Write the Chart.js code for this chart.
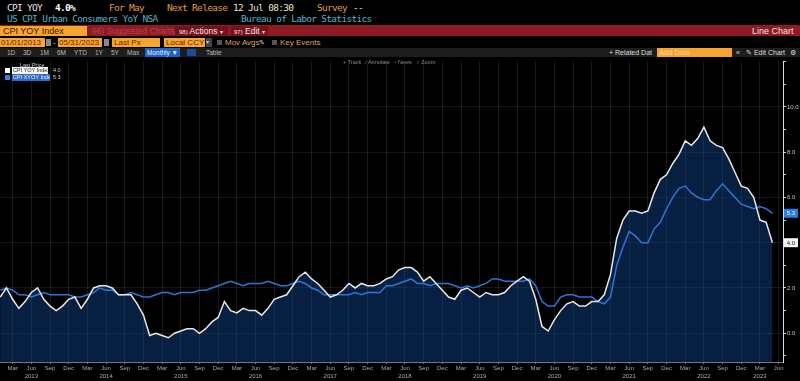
<!DOCTYPE html>
<html><head><meta charset="utf-8">
<script src="https://cdn.jsdelivr.net/npm/chart.js@4"></script>
<style>
html,body{margin:0;padding:0;background:#000;width:800px;height:381px;overflow:hidden;}
.a{position:absolute;white-space:nowrap;}
.mono{font-family:"DejaVu Sans Mono","Liberation Mono",monospace;font-size:9.5px;line-height:10px;letter-spacing:-0.7px;}
.s{font-family:"Liberation Sans",Arial,sans-serif;}
.box{position:absolute;box-sizing:border-box;white-space:nowrap;overflow:hidden;}
#wrap{position:absolute;left:0;top:57px;width:800px;height:324px;}
.ov{z-index:5;}
</style></head><body>

<!-- row 1 -->
<div class="a mono" style="left:7px;top:3px;color:#e6e6e6">CPI YOY</div>
<div class="a mono" style="left:55px;top:3px;color:#fff;font-weight:bold">4.0%</div>
<div class="a mono" style="left:109px;top:3px;color:#e09a45">For May</div>
<div class="a mono" style="left:167px;top:3px;color:#e09a45">Next Release</div>
<div class="a mono" style="left:233px;top:3px;color:#ece2cf">12 Jul 08:30</div>
<div class="a mono" style="left:317px;top:3px;color:#e09a45">Survey</div>
<div class="a mono" style="left:353px;top:3px;color:#e6e6e6">--</div>
<!-- row 2 -->
<div class="a mono" style="left:7px;top:14px;color:#4fb6c9">US CPI Urban Consumers YoY NSA</div>
<div class="a mono" style="left:241px;top:14px;color:#4fb6c9">Bureau of Labor Statistics</div>

<!-- row 3 red bar -->
<div class="box" style="left:0;top:25px;width:800px;height:11px;background:#8e1a24"></div>
<div class="box s" style="left:0;top:26px;width:87px;height:10px;background:#f6a531;color:#3b1600;font-size:9px;line-height:10px;padding-left:3px">CPI YOY Index</div>
<div class="a s" style="left:92px;top:26px;color:#b8424c;font-size:8.5px;line-height:10px">96) Suggested Charts</div>
<div class="box s" style="left:175px;top:26px;width:53px;height:10px;background:#75121c;color:#f2e6e6;font-size:8.5px;line-height:10px;padding-left:4px"><span style="font-size:6px">98)</span> Actions <span style="font-size:6px">▾</span></div>
<div class="box s" style="left:231px;top:26px;width:37px;height:10px;background:#75121c;color:#f2e6e6;font-size:8.5px;line-height:10px;padding-left:3px"><span style="font-size:6px">97)</span> Edit <span style="font-size:6px">▾</span></div>
<div class="a s" style="left:752px;top:26px;color:#f2e6e6;font-size:9px;line-height:10px">Line Chart</div>

<!-- row 4 -->
<div class="box s" style="left:0;top:38px;width:45px;height:9px;background:#f6a531;color:#6a2600;font-size:8px;line-height:9px;padding-left:1px">01/01/2013</div>
<div class="box" style="left:46px;top:39px;width:5px;height:7px;background:#8a8a8a"></div>
<div class="a s" style="left:53px;top:38px;color:#ddd;font-size:8px;line-height:9px">-</div>
<div class="box s" style="left:58px;top:38px;width:44px;height:9px;background:#f6a531;color:#6a2600;font-size:8px;line-height:9px;padding-left:1px">05/31/2023</div>
<div class="box" style="left:104px;top:39px;width:5px;height:7px;background:#8a8a8a"></div>
<div class="box s" style="left:112px;top:38px;width:48px;height:9px;background:#f6a531;color:#6a2600;font-size:8px;line-height:9px;padding-left:2px">Last Px</div>
<div class="box s" style="left:164px;top:38px;width:41px;height:9px;background:#f6a531;color:#6a2600;font-size:8px;line-height:9px;padding-left:2px">Local CCY</div>
<div class="box s" style="left:206px;top:38px;width:6px;height:9px;background:#444;color:#ccc;font-size:6px;line-height:9px">▾</div>
<div class="box" style="left:217px;top:40px;width:5px;height:5px;background:#555"></div>
<div class="a s" style="left:225px;top:38px;color:#d9a35a;font-size:8px;line-height:9px">Mov Avgs</div>
<div class="a s" style="left:259px;top:38px;color:#ddd;font-size:7px;line-height:9px">✎</div>
<div class="box" style="left:272px;top:40px;width:5px;height:5px;background:#555"></div>
<div class="a s" style="left:280px;top:38px;color:#d9a35a;font-size:8px;line-height:9px">Key Events</div>

<!-- row 5 gray bar -->
<div class="box" style="left:0;top:48px;width:800px;height:9px;background:#1d1d1d"></div>
<div class="a s" style="left:7px;top:49px;color:#bbb;font-size:6.5px;line-height:8px">1D</div>
<div class="a s" style="left:23px;top:49px;color:#bbb;font-size:6.5px;line-height:8px">3D</div>
<div class="a s" style="left:40px;top:49px;color:#bbb;font-size:6.5px;line-height:8px">1M</div>
<div class="a s" style="left:57px;top:49px;color:#bbb;font-size:6.5px;line-height:8px">6M</div>
<div class="a s" style="left:74px;top:49px;color:#bbb;font-size:6.5px;line-height:8px">YTD</div>
<div class="a s" style="left:95px;top:49px;color:#bbb;font-size:6.5px;line-height:8px">1Y</div>
<div class="a s" style="left:111px;top:49px;color:#bbb;font-size:6.5px;line-height:8px">5Y</div>
<div class="a s" style="left:127px;top:49px;color:#bbb;font-size:6.5px;line-height:8px">Max</div>
<div class="box s" style="left:145px;top:48px;width:35px;height:9px;background:#1c64c8;color:#eef;font-size:6.5px;line-height:9px;padding-left:2px">Monthly ▼</div>
<div class="box" style="left:187px;top:49px;width:9px;height:7px;background:#1a4c9c"></div>
<div class="a s" style="left:206px;top:49px;color:#bbb;font-size:6.5px;line-height:8px">Table</div>
<div class="a s" style="left:609px;top:48px;color:#ddd;font-size:7px;line-height:9px">+ Related Dat</div>
<div class="box s" style="left:657px;top:48px;width:75px;height:9px;background:#f6a531;color:#f9d9a0;font-size:7.5px;line-height:9px;padding-left:2px">Add Data</div>
<div class="a s" style="left:736px;top:48px;color:#ddd;font-size:7px;line-height:9px">«</div>
<div class="a s" style="left:746px;top:48px;color:#ddd;font-size:7px;line-height:9px">✎ Edit Chart</div>
<div class="a s" style="left:790px;top:48px;color:#ddd;font-size:7px;line-height:9px">⚙</div>

<div id="wrap"><canvas id="c"></canvas></div>

<!-- overlays -->
<div class="a s ov" style="left:343px;top:59px;color:#8a8a8a;font-size:5.5px;line-height:7px">+ Track &nbsp; ⁄ Annotate &nbsp; ▫ News &nbsp; ○ Zoom</div>
<div class="a s ov" style="left:20px;top:62px;color:#cfcfcf;font-size:5.5px;line-height:6px">Last Price</div>
<div class="box ov" style="left:5px;top:68px;width:5px;height:5px;background:#fff"></div>
<div class="box s ov" style="left:12px;top:67px;width:36px;height:7px;background:#f4f4f4;color:#222;font-size:5.5px;line-height:7px;padding-left:1px">CPI YOY Index</div>
<div class="a s ov" style="left:53px;top:67px;color:#cfcfcf;font-size:5.5px;line-height:7px">4.0</div>
<div class="box ov" style="left:5px;top:75px;width:5px;height:5px;background:#3b7fe0"></div>
<div class="box s ov" style="left:12px;top:74px;width:38px;height:7px;background:#2f6ccc;color:#e8eefa;font-size:5.5px;line-height:7px;padding-left:1px">CPI XYOY Index</div>
<div class="a s ov" style="left:53px;top:74px;color:#cfcfcf;font-size:5.5px;line-height:7px">5.3</div>

<script>
// ---- data (monthly, Jan 2013 .. May 2023) ----
const startYear = 2013;
const quarterMonths = ['Mar', 'Jun', 'Sep', 'Dec'];
const years = ['2013','2014','2015','2016','2017','2018','2019','2020','2021','2022','2023'];
const yTickLabels = ['0.0', '2.0', '4.0', '6.0', '8.0', '10.0'];

const cpiYoy = [
  1.6,2.0,1.5,1.1,1.4,1.8,2.0,1.5,1.2,1.0,1.2,1.5,
  1.6,1.1,1.5,2.0,2.1,2.1,2.0,1.7,1.7,1.7,1.3,0.8,
  -0.1,0.0,-0.1,-0.2,0.0,0.1,0.2,0.2,0.0,0.2,0.5,0.7,
  1.4,1.0,0.9,1.1,1.0,1.0,0.8,1.1,1.5,1.6,1.7,2.1,
  2.5,2.7,2.4,2.2,1.9,1.6,1.7,1.9,2.2,2.0,2.2,2.1,
  2.1,2.2,2.4,2.5,2.8,2.9,2.9,2.7,2.3,2.5,2.2,1.9,
  1.6,1.5,1.9,2.0,1.8,1.6,1.8,1.7,1.7,1.8,2.1,2.3,
  2.5,2.3,1.5,0.3,0.1,0.6,1.0,1.3,1.4,1.2,1.2,1.4,
  1.4,1.7,2.6,4.2,5.0,5.4,5.4,5.3,5.4,6.2,6.8,7.0,
  7.5,7.9,8.5,8.3,8.6,9.1,8.5,8.3,8.2,7.7,7.1,6.5,
  6.4,6.0,5.0,4.9,4.0
];
const coreYoy = [
  1.9,2.0,1.9,1.7,1.7,1.6,1.7,1.8,1.7,1.7,1.7,1.7,
  1.6,1.6,1.7,1.8,2.0,1.9,1.9,1.7,1.7,1.8,1.7,1.6,
  1.6,1.7,1.8,1.8,1.7,1.8,1.8,1.8,1.9,1.9,2.0,2.1,
  2.2,2.3,2.2,2.1,2.2,2.2,2.2,2.3,2.2,2.1,2.1,2.2,
  2.3,2.2,2.0,1.9,1.7,1.7,1.7,1.7,1.7,1.8,1.7,1.8,
  1.8,1.8,2.1,2.1,2.2,2.3,2.4,2.2,2.2,2.1,2.2,2.2,
  2.2,2.1,2.0,2.1,2.0,2.1,2.2,2.4,2.4,2.3,2.3,2.3,
  2.3,2.4,2.1,1.4,1.2,1.2,1.6,1.7,1.7,1.6,1.6,1.6,
  1.4,1.3,1.6,3.0,3.8,4.5,4.3,4.0,4.0,4.6,4.9,5.5,
  6.0,6.4,6.5,6.2,6.0,5.9,5.9,6.3,6.6,6.3,6.0,5.7,
  5.6,5.5,5.6,5.5,5.3
];

const toPts = arr => arr.map((v, i) => ({x: i, y: v}));
const WHITE = '#e8e8e8', BLUE = '#2f74d6';

const badgePlugin = {
  id: 'badges',
  afterDraw(chart) {
    const ctx = chart.ctx, ys = chart.scales.y;
    const defs = [
      {data: coreYoy, bg: '#2f7be6', fg: '#ffffff'},
      {data: cpiYoy, bg: '#f4f4f4', fg: '#111111'}
    ];
    ctx.save();
    defs.forEach(d => {
      const v = d.data[d.data.length - 1];
      const y = ys.getPixelForValue(v);
      const x0 = chart.chartArea.right + 1;
      ctx.fillStyle = d.bg;
      ctx.fillRect(x0, y - 4.5, 14, 9);
      ctx.fillStyle = d.fg;
      ctx.font = '6px "Liberation Sans", Arial, sans-serif';
      ctx.textBaseline = 'middle';
      ctx.textAlign = 'center';
      ctx.fillText(v.toFixed(1), x0 + 7, y + 0.5);
    });
    ctx.restore();
  }
};

new Chart(document.getElementById('c'), {
  type: 'line',
  data: {
    datasets: [
      {label: 'CPI YOY Index', data: toPts(cpiYoy), borderColor: WHITE, borderWidth: 1.5,
       pointRadius: 0, tension: 0, fill: 'start', backgroundColor: 'rgba(16,70,145,0.45)'},
      {label: 'CPI XYOY Index', data: toPts(coreYoy), borderColor: BLUE, borderWidth: 1.5,
       pointRadius: 0, tension: 0, fill: false}
    ]
  },
  options: {
    responsive: true, maintainAspectRatio: false, animation: false,
    layout: {padding: 0},
    plugins: {legend: {display: false}, tooltip: {enabled: false},
              filler: {drawTime: 'beforeDatasetsDraw'}},
    scales: {
      x: {
        type: 'linear', min: -0.03, max: 125.7,
        afterBuildTicks: s => {
          const t = [];
          for (let i = 2; i <= 125; i += 3) t.push({value: i});
          s.ticks = t;
        },
        afterFit: s => { s.height = 19; },
        ticks: {
          autoSkip: false, maxRotation: 0, padding: 1, color: '#a8a8a8',
          font: {size: 6, family: '"Liberation Sans", Arial, sans-serif', lineHeight: 1.25},
          callback: v => {
            const m = quarterMonths[((v % 12) - 2) / 3];
            const yr = years[Math.floor(v / 12)];
            if ((m === 'Jun' && yr !== '2023') || (m === 'Mar' && yr === '2023')) return [m, yr];
            return m;
          }
        },
        grid: {color: 'rgba(255,255,255,0.1)', tickLength: 2, tickColor: '#777'},
        border: {color: '#777'}
      },
      y: {
        position: 'right', min: -1.27, max: 12,
        afterBuildTicks: s => {
          const t = [];
          for (let v = -1; v <= 12; v++) t.push({value: v});
          s.ticks = t;
        },
        afterFit: s => { s.width = 17; },
        ticks: {
          padding: 1, color: '#c8c8c8',
          font: {size: 6, family: '"Liberation Sans", Arial, sans-serif'},
          callback: v => {
            if (v < 0 || v % 2 !== 0) return '';
            return yTickLabels[v / 2] || '';
          }
        },
        grid: {
          color: c => (c.tick && c.tick.value % 2 === 0 && c.tick.value >= 0 && c.tick.value < 12) ? 'rgba(255,255,255,0.09)' : 'rgba(0,0,0,0)',
          tickLength: 3, tickColor: '#cfcfcf'
        },
        border: {color: '#dcdcdc', width: 1}
      }
    }
  },
  plugins: [badgePlugin]
});
</script>
</body></html>
